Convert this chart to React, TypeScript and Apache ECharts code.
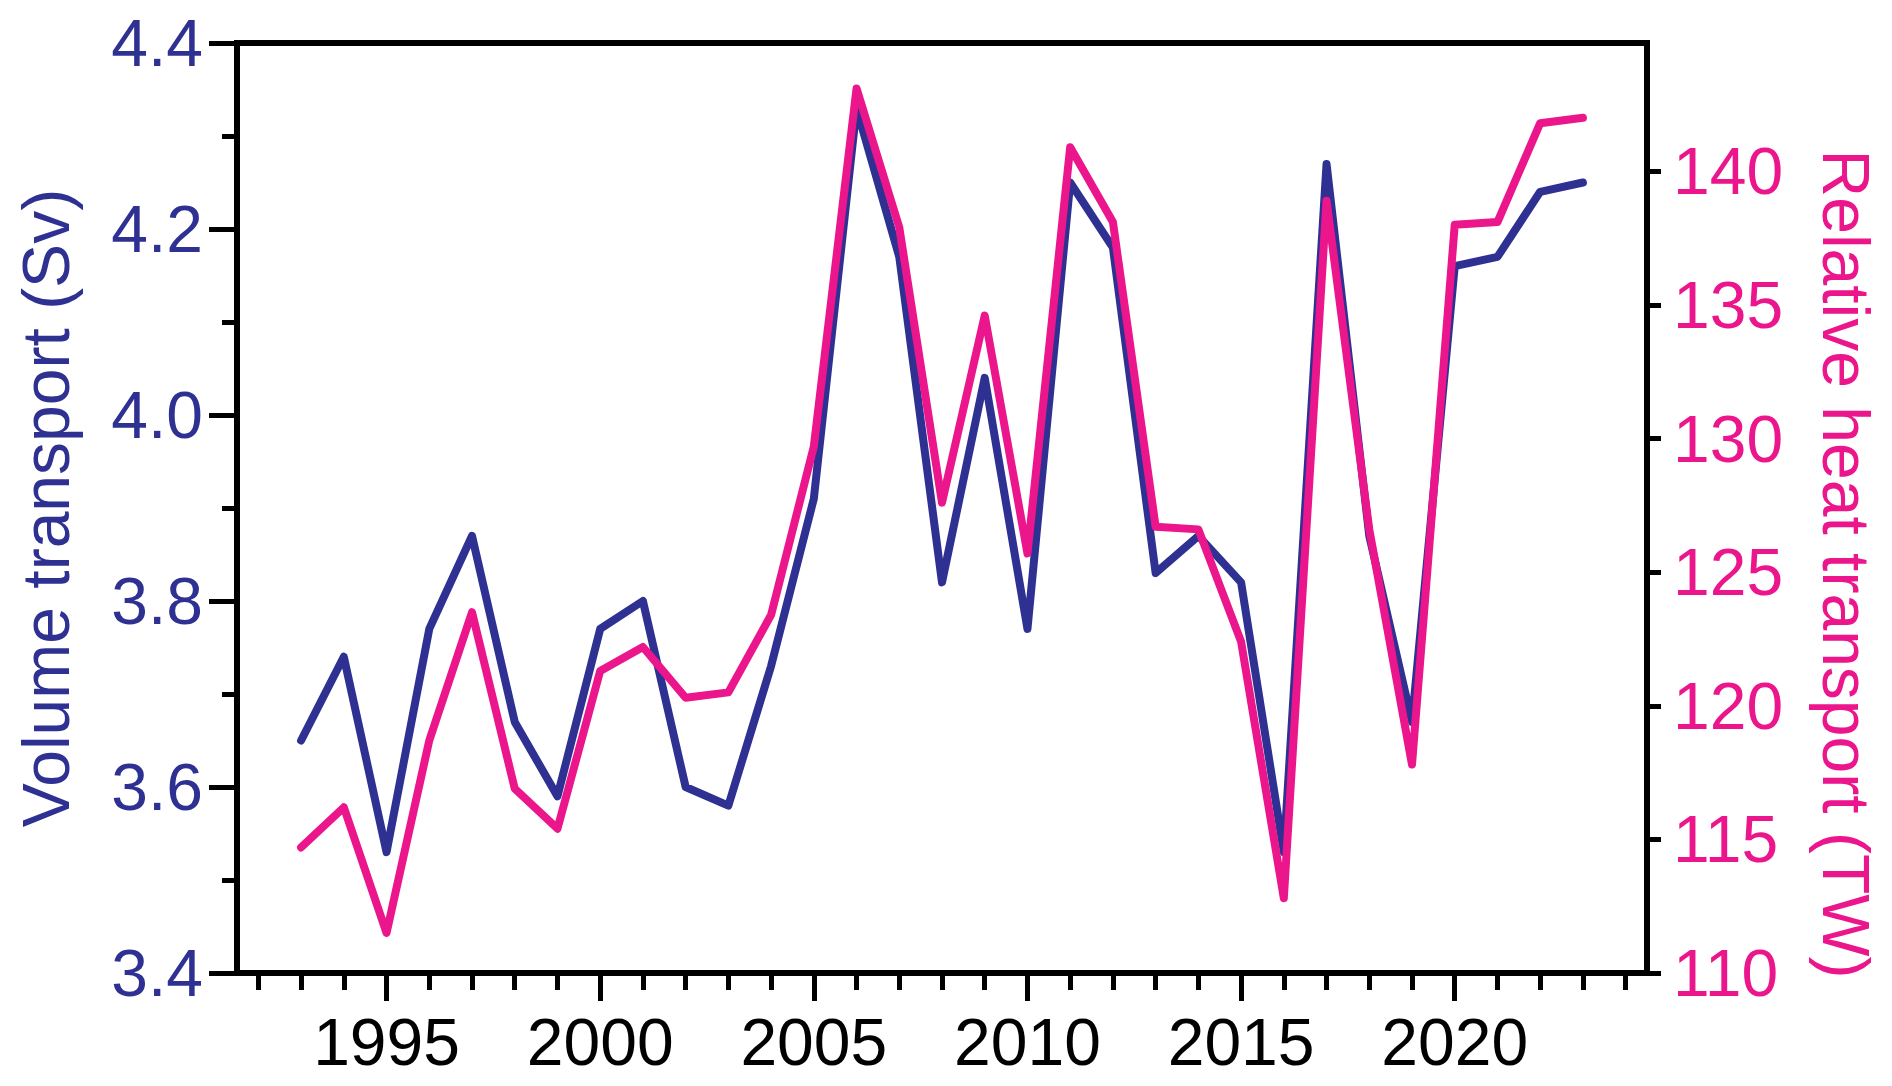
import React, { useEffect, useRef } from "react";
import * as echarts from "echarts";

const years = [
  1993, 1994, 1995, 1996, 1997, 1998, 1999, 2000, 2001, 2002, 2003, 2004, 2005, 2006, 2007,
  2008, 2009, 2010, 2011, 2012, 2013, 2014, 2015, 2016, 2017, 2018, 2019, 2020, 2021, 2022, 2023,
];
const volumeTransport = [
  3.65, 3.74, 3.53, 3.77, 3.87, 3.67, 3.59, 3.77, 3.8, 3.6, 3.58, 3.73, 3.91, 4.33, 4.17,
  3.82, 4.04, 3.77, 4.25, 4.18, 3.83, 3.87, 3.82, 3.53, 4.27, 3.87, 3.67, 4.16, 4.17, 4.24, 4.25,
];
const heatTransport = [
  114.7, 116.2, 111.5, 118.7, 123.5, 116.9, 115.4, 121.3, 122.2, 120.3, 120.5, 123.4, 129.7, 143.1, 137.9,
  127.6, 134.6, 125.7, 140.9, 138.1, 126.7, 126.6, 122.4, 112.8, 138.9, 126.6, 117.8, 138.0, 138.1, 141.8, 142.0,
];
const xLabelYears = [1995, 2000, 2005, 2010, 2015, 2020];
const xMinorYears = [
  1992, 1993, 1994, 1995, 1996, 1997, 1998, 1999, 2000, 2001, 2002, 2003, 2004, 2005, 2006, 2007, 2008,
  2009, 2010, 2011, 2012, 2013, 2014, 2015, 2016, 2017, 2018, 2019, 2020, 2021, 2022, 2023, 2024,
];
const rightTicks = [110, 115, 120, 125, 130, 135, 140];

const NAVY = "#2e3192";
const PINK = "#ec168c";
const FONT = "Liberation Sans, Arial, sans-serif";

export default function App() {
  const ref = useRef<HTMLDivElement>(null);
  useEffect(() => {
    if (!ref.current) return;
    const chart = echarts.init(ref.current, undefined, { renderer: "svg" });
    const option: any = {
      animation: false,
      backgroundColor: "#ffffff",
      grid: {
        left: 237,
        right: 245,
        top: 43,
        bottom: 113,
        containLabel: false,
        outerBoundsMode: "none",
        show: true,
        borderColor: "#000",
        borderWidth: 6,
        backgroundColor: "transparent",
      },
      xAxis: [
        {
          type: "value",
          min: 1991.5,
          max: 2024.5,
          position: "bottom",
          axisLine: { show: true, onZero: false, lineStyle: { color: "#000", width: 6 } },
          axisTick: { show: true, length: 28, customValues: xLabelYears, lineStyle: { color: "#000", width: 5 } },
          axisLabel: {
            show: true,
            customValues: xLabelYears,
            fontSize: 66,
            fontFamily: FONT,
            color: "#000",
            margin: 36,
            formatter: (v: number) => String(v),
          },
          splitLine: { show: false },
        },
        {
          type: "value",
          min: 1991.5,
          max: 2024.5,
          position: "bottom",
          axisLine: { show: false, onZero: false },
          axisTick: { show: true, length: 17, customValues: xMinorYears, lineStyle: { color: "#000", width: 5 } },
          axisLabel: { show: false },
          splitLine: { show: false },
        },
      ],
      yAxis: [
        {
          type: "value",
          position: "left",
          min: 3.4,
          max: 4.4,
          interval: 0.2,
          axisLine: { show: true, onZero: false, lineStyle: { color: "#000", width: 6 } },
          axisTick: { show: true, length: 28, lineStyle: { color: "#000", width: 5 } },
          minorTick: { show: true, splitNumber: 2, length: 15, lineStyle: { color: "#000", width: 5 } },
          axisLabel: {
            fontSize: 66,
            fontFamily: FONT,
            color: NAVY,
            margin: 34,
            formatter: (v: number) => v.toFixed(1),
          },
          splitLine: { show: false },
          minorSplitLine: { show: false },
        },
        {
          type: "value",
          position: "right",
          min: 110,
          max: 144.8,
          axisLine: { show: true, onZero: false, lineStyle: { color: "#000", width: 6 } },
          axisTick: { show: true, length: 14, customValues: rightTicks, lineStyle: { color: "#000", width: 5 } },
          axisLabel: {
            customValues: rightTicks,
            fontSize: 66,
            fontFamily: FONT,
            color: PINK,
            margin: 26,
            formatter: (v: number) => String(v),
          },
          splitLine: { show: false },
        },
      ],
      graphic: [
        {
          type: "text",
          x: 46,
          y: 508,
          rotation: Math.PI / 2,
          style: {
            text: "Volume transport (Sv)",
            fontSize: 66,
            fontFamily: FONT,
            fill: NAVY,
            textAlign: "center",
            textVerticalAlign: "middle",
          },
        },
        {
          type: "text",
          x: 1846,
          y: 564,
          rotation: -Math.PI / 2,
          style: {
            text: "Relative heat transport (TW)",
            fontSize: 66,
            fontFamily: FONT,
            fill: PINK,
            textAlign: "center",
            textVerticalAlign: "middle",
          },
        },
      ],
      series: [
        {
          name: "Volume transport",
          type: "line",
          xAxisIndex: 0,
          yAxisIndex: 0,
          data: years.map((y, i) => [y, volumeTransport[i]]),
          showSymbol: false,
          symbol: "none",
          lineStyle: { color: NAVY, width: 8, cap: "round", join: "round" },
          z: 2,
        },
        {
          name: "Relative heat transport",
          type: "line",
          xAxisIndex: 0,
          yAxisIndex: 1,
          data: years.map((y, i) => [y, heatTransport[i]]),
          showSymbol: false,
          symbol: "none",
          lineStyle: { color: PINK, width: 8, cap: "round", join: "round" },
          z: 3,
        },
      ],
    };
    chart.setOption(option);
    return () => chart.dispose();
  }, []);
  return (
    <div
      ref={ref}
      style={{ position: "fixed", left: 0, top: 0, width: 1892, height: 1086, background: "#fff" }}
    />
  );
}
